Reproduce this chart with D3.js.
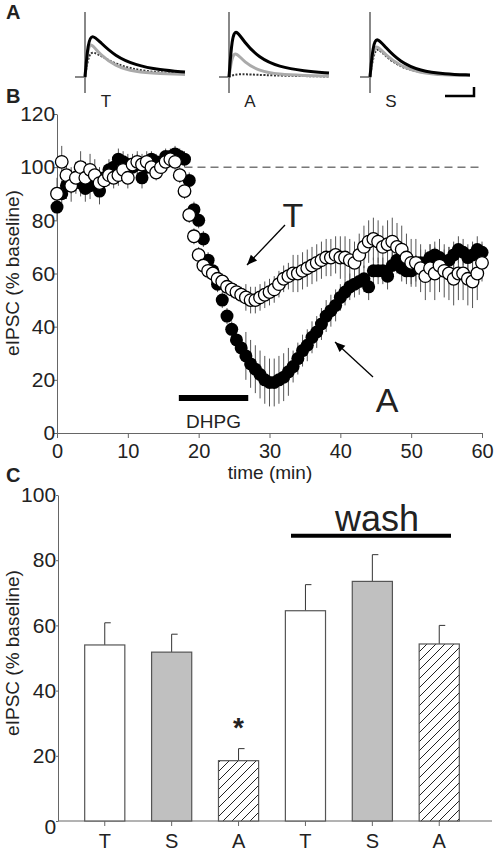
<!DOCTYPE html>
<html>
<head>
<meta charset="utf-8">
<script src="https://cdn.jsdelivr.net/npm/d3@7"></script>
<style>
body { margin: 0; background: #fff; }
text { font-family: "Liberation Sans", Arial, sans-serif; fill: #222; }
</style>
</head>
<body>
<svg id="fig" width="497" height="856"></svg>
<script>
// ---- data ----
// panel A: example traces, [time (rel), amplitude (rel)]
var traceNames = ["T", "A", "S"];
var traceBlack = [
  [[0,0],[3,0.7],[7,0.86],[15,0.7],[30,0.42],[50,0.24],[75,0.14],[100,0.1]],
  [[0,0],[3,0.8],[7,0.96],[15,0.7],[30,0.38],[50,0.2],[75,0.12],[100,0.08]],
  [[0,0],[3,0.65],[7,0.8],[15,0.6],[30,0.3],[50,0.12],[75,0.06],[100,0.04]]
];
var traceGray = [
  [[0,0],[3,0.6],[6,0.68],[15,0.45],[30,0.22],[50,0.1],[75,0.07],[100,0.05]],
  [[0,0],[3,0.42],[7,0.5],[15,0.3],[30,0.12],[50,0.05],[75,0.03],[100,0.02]],
  [[0,0],[3,0.55],[7,0.64],[15,0.45],[30,0.22],[50,0.08],[75,0.04],[100,0.03]]
];
var traceDot = [
  [[0,0],[4,0.5],[10,0.5],[30,0.25],[60,0.1],[100,0.07]],
  [[0,0],[5,0.05],[15,0.06],[40,0.03],[100,0.01]],
  [[0,0],[4,0.5],[8,0.58],[15,0.42],[30,0.2],[50,0.08],[100,0.03]]
];

// panel B: time course, one point every 2/3 min
var timeStep = 2 / 3;
var valsA = [85,90,93,95,96,94,92,93,95,91,96,99,100,103,102,101,100,101,96,100,
  103,102,101,104,104,105,104,103,95,84,80,73,65,61,56,50,44,39,35,32,
  29,26,24,22,20,19,19,20,21,23,25,28,31,33,36,38,41,44,46,48,
  51,53,55,56,57,58,55,61,61,61,59,63,65,62,61,61,62,64,64,66,
  67,66,64,65,67,69,68,66,67,69,68];
var valsT = [90,102,97,93,96,100,96,99,97,94,95,97,96,97,99,96,101,102,101,102,
  100,98,100,102,103,102,97,91,82,74,67,63,61,60,58,57,55,54,53,52,
  51,50,50,51,52,53,54,56,58,59,60,60,61,62,63,64,65,66,66,67,
  66,66,65,64,67,70,72,73,72,70,71,72,70,69,66,64,64,62,59,62,
  60,63,61,60,58,60,60,58,57,60,64];
// SEM per block of 10 points
var semBlockA = [5,4,3,3,9,6,5,5,5,4];
var semBlockT = [6,4,3,3,5,7,8,9,10,7];
var dhpg = [17.2, 27];

// panel C: bars
var barLabels = ["T", "S", "A", "T", "S", "A"];
var barVals = [54, 51.8, 18.5, 64.5, 73.5, 54.3];
var barErr = [6.8, 5.5, 3.7, 8, 8.2, 5.7];
var barFill = ["white", "gray", "hatch", "white", "gray", "hatch"];

var svg = d3.select("#fig");
var defs = svg.append("defs");
var pat = defs.append("pattern").attr("id", "hatch").attr("patternUnits", "userSpaceOnUse")
  .attr("width", 9).attr("height", 9);
pat.append("rect").attr("width", 9).attr("height", 9).attr("fill", "#fff");
pat.append("path").attr("d", "M0,9 L9,0 M-2,2 L2,-2 M7,11 L11,7").attr("stroke", "#222").attr("stroke-width", 1);

function letter(t, x, y) {
  svg.append("text").attr("x", x).attr("y", y).text(t)
    .attr("font-size", 20).attr("font-weight", "bold");
}
letter("A", 6, 19); letter("B", 6, 103); letter("C", 6, 482);

// ---- panel A ----
var offs = [85, 229, 370];
traceNames.forEach(function (n, i) {
  var g = svg.append("g").attr("transform", "translate(" + offs[i] + ",0)");
  var tx = d3.scaleLinear().domain([0, 100]).range([0, 100]);
  var ty = d3.scaleLinear().domain([0, 1]).range([77, 27]);
  var line = d3.line().x(function (d) { return tx(d[0]); }).y(function (d) { return ty(d[1]); }).curve(d3.curveBasis);
  g.append("line").attr("x1", -10).attr("x2", 0).attr("y1", 77).attr("y2", 77).attr("stroke", "#888").attr("stroke-width", 2);
  g.append("line").attr("x1", 0).attr("x2", 0).attr("y1", 12).attr("y2", 93).attr("stroke", "#888").attr("stroke-width", 2);
  g.append("path").attr("d", line(traceDot[i])).attr("fill", "none").attr("stroke", "#333").attr("stroke-width", 2).attr("stroke-dasharray", "2,1.5");
  g.append("path").attr("d", line(traceGray[i])).attr("fill", "none").attr("stroke", "#aaa").attr("stroke-width", 3);
  g.append("path").attr("d", line(traceBlack[i])).attr("fill", "none").attr("stroke", "#000").attr("stroke-width", 3);
  g.append("text").attr("x", 21).attr("y", 107).attr("text-anchor", "middle").attr("font-size", 17).text(n);
});
svg.append("path").attr("d", "M445,96 L474,96 L474,87").attr("fill", "none").attr("stroke", "#000").attr("stroke-width", 2.5);

// ---- panel B ----
var bx = d3.scaleLinear().domain([0, 60]).range([57, 482]);
var by = d3.scaleLinear().domain([0, 120]).range([433, 114]);
var gb = svg.append("g");
gb.append("g").attr("transform", "translate(0,433)")
  .call(d3.axisBottom(bx).tickValues([0, 10, 20, 30, 40, 50, 60]).tickSize(5).tickSizeOuter(0))
  .call(function (a) { a.select(".domain").attr("stroke", "#666"); a.selectAll("line").attr("stroke", "#666");
    a.selectAll("text").attr("font-size", 20).attr("dy", "0.85em").attr("font-family", "Liberation Sans"); });
gb.append("g").attr("transform", "translate(57,0)")
  .call(d3.axisLeft(by).tickValues([0, 20, 40, 60, 80, 100, 120]).tickSize(3).tickSizeOuter(0))
  .call(function (a) { a.select(".domain").attr("stroke", "#666"); a.selectAll("line").attr("stroke", "#666");
    a.selectAll("text").attr("font-size", 21).attr("dx", "0.2em").attr("font-family", "Liberation Sans"); });
gb.append("line").attr("x1", bx(18)).attr("x2", bx(60)).attr("y1", by(100)).attr("y2", by(100))
  .attr("stroke", "#333").attr("stroke-dasharray", "8,5");
svg.append("text").attr("transform", "translate(19,273) rotate(-90)").attr("text-anchor", "middle")
  .attr("font-size", 19).text("eIPSC (% baseline)");
svg.append("text").attr("x", 270).attr("y", 479).attr("text-anchor", "middle").attr("font-size", 19).text("time (min)");

function errs(vals, blk) {
  gb.selectAll(null).data(vals).enter().append("line")
    .attr("x1", function (d, i) { return bx(i * timeStep); }).attr("x2", function (d, i) { return bx(i * timeStep); })
    .attr("y1", function (d, i) { return by(d + blk[Math.floor(i / 10)]); })
    .attr("y2", function (d, i) { return by(d - blk[Math.floor(i / 10)]); })
    .attr("stroke", "#555").attr("stroke-width", 1);
}
errs(valsA, semBlockA);
errs(valsT, semBlockT);
gb.selectAll(null).data(valsA).enter().append("circle")
  .attr("cx", function (d, i) { return bx(i * timeStep); }).attr("cy", function (d) { return by(d); })
  .attr("r", 6.5).attr("fill", "#000");
gb.selectAll(null).data(valsT).enter().append("circle")
  .attr("cx", function (d, i) { return bx(i * timeStep); }).attr("cy", function (d) { return by(d); })
  .attr("r", 6.3).attr("fill", "#fff").attr("stroke", "#000").attr("stroke-width", 1.3);
gb.append("line").attr("x1", bx(dhpg[0])).attr("x2", bx(dhpg[1])).attr("y1", 398).attr("y2", 398)
  .attr("stroke", "#000").attr("stroke-width", 6);
gb.append("text").attr("x", (bx(dhpg[0]) + bx(dhpg[1])) / 2).attr("y", 428).attr("text-anchor", "middle")
  .attr("font-size", 19).text("DHPG");
function arrow(x1, y1, x2, y2) {
  gb.append("line").attr("x1", x1).attr("y1", y1).attr("x2", x2).attr("y2", y2).attr("stroke", "#000").attr("stroke-width", 1.3);
  var a = Math.atan2(y2 - y1, x2 - x1), L = 11, w = 0.4;
  gb.append("path").attr("d", "M" + x2 + "," + y2 + " L" + (x2 - L * Math.cos(a - w)) + "," + (y2 - L * Math.sin(a - w)) +
    " L" + (x2 - L * Math.cos(a + w)) + "," + (y2 - L * Math.sin(a + w)) + "Z").attr("fill", "#000");
}
arrow(285, 225, 247, 265);
arrow(373, 377, 335, 342);
gb.append("text").attr("x", 293).attr("y", 227).attr("text-anchor", "middle").attr("font-size", 34).text("T");
gb.append("text").attr("x", 387).attr("y", 412).attr("text-anchor", "middle").attr("font-size", 34).text("A");

// ---- panel C ----
var cx = d3.scaleBand().domain(d3.range(barVals.length)).range([78, 466]).paddingInner(0.4).paddingOuter(0.1);
var cy = d3.scaleLinear().domain([0, 100]).range([821, 495]);
var gc = svg.append("g");
gc.append("g").attr("transform", "translate(58,0)")
  .call(d3.axisLeft(cy).tickValues([0, 20, 40, 60, 80, 100]).tickSize(2).tickSizeOuter(0))
  .call(function (a) { a.select(".domain").attr("stroke", "#666"); a.selectAll("line").attr("stroke", "#666");
    a.selectAll("text").attr("font-size", 21).attr("dx", "0.15em").attr("dy", function (d) { return d === 0 ? "0.6em" : "0.32em"; })
      .attr("font-family", "Liberation Sans"); });
gc.append("line").attr("x1", 58).attr("x2", 492).attr("y1", 821).attr("y2", 821).attr("stroke", "#666");
svg.append("text").attr("transform", "translate(19,653) rotate(-90)").attr("text-anchor", "middle")
  .attr("font-size", 19).text("eIPSC (% baseline)");
barVals.forEach(function (v, i) {
  var x0 = cx(i), w = cx.bandwidth(), xm = x0 + w / 2;
  gc.append("line").attr("x1", xm).attr("x2", xm).attr("y1", cy(v)).attr("y2", cy(v + barErr[i])).attr("stroke", "#333");
  gc.append("line").attr("x1", xm).attr("x2", xm + 6).attr("y1", cy(v + barErr[i])).attr("y2", cy(v + barErr[i])).attr("stroke", "#333");
  var f = barFill[i] === "white" ? "#fff" : barFill[i] === "gray" ? "#c0c0c0" : "url(#hatch)";
  gc.append("rect").attr("x", x0).attr("y", cy(v)).attr("width", w).attr("height", cy(0) - cy(v))
    .attr("fill", f).attr("stroke", "#555").attr("stroke-width", 1.2);
  gc.append("line").attr("x1", xm).attr("x2", xm).attr("y1", 821).attr("y2", 826).attr("stroke", "#666");
  gc.append("text").attr("x", xm).attr("y", 848).attr("text-anchor", "middle").attr("font-size", 20).text(barLabels[i]);
});
gc.append("text").attr("x", cx(2) + cx.bandwidth() / 2).attr("y", 737).attr("text-anchor", "middle")
  .attr("font-size", 28).attr("font-weight", "bold").text("*");
gc.append("line").attr("x1", 291).attr("x2", 451).attr("y1", cy(87.5)).attr("y2", cy(87.5)).attr("stroke", "#000").attr("stroke-width", 4);
gc.append("text").attr("x", 377).attr("y", 531).attr("text-anchor", "middle").attr("font-size", 36).text("wash");
</script>
</body>
</html>
